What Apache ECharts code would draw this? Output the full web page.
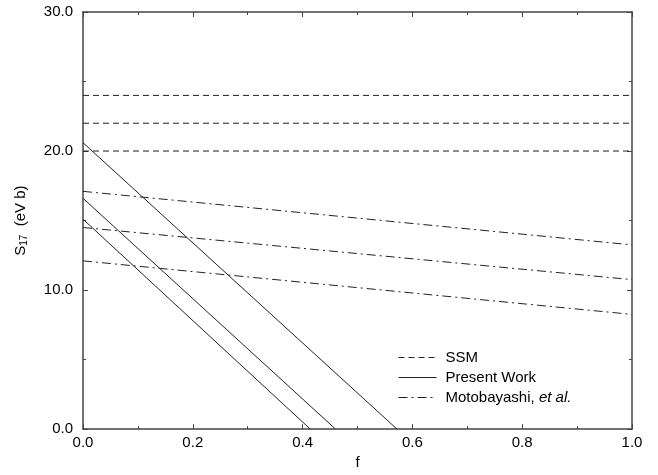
<!DOCTYPE html>
<html>
<head>
<meta charset="utf-8">
<script src="https://cdn.jsdelivr.net/npm/echarts@6/dist/echarts.min.js"></script>
<style>
  html, body { margin: 0; padding: 0; background: #fff; }
  #chart { width: 658px; height: 475px; }
</style>
</head>
<body>
<div id="chart"></div>
<script>
// values
var fRange = [0.0, 1.0];
var xTicks = [0.0, 0.2, 0.4, 0.6, 0.8, 1.0];
var yTicks = [0.0, 10.0, 20.0, 30.0];

// SSM: constant S17
var ssmValues = [24.0, 22.0, 20.0];

// Present Work: straight lines, [S17 at f=0, f where S17 reaches 0]
var presentStart = [20.6, 16.6, 15.1];
var presentZero = [0.572, 0.46, 0.414];

// Motobayashi et al.: [S17 at f=0, S17 at f=1]
var motoStart = [17.1, 14.5, 12.1];
var motoEnd = [13.25, 10.75, 8.25];

var lineColor = '#222';
var series = [];

ssmValues.forEach(function (v) {
    series.push({
        name: 'SSM', type: 'line', symbol: 'none', silent: true,
        data: [[fRange[0], v], [fRange[1], v]],
        itemStyle: { color: lineColor },
        lineStyle: { color: lineColor, width: 1, type: [6, 4] }
    });
});
presentStart.forEach(function (v, i) {
    series.push({
        name: 'Present Work', type: 'line', symbol: 'none', silent: true,
        data: [[fRange[0], v], [presentZero[i], 0]],
        itemStyle: { color: lineColor },
        lineStyle: { color: lineColor, width: 1, type: 'solid' }
    });
});
motoStart.forEach(function (v, i) {
    series.push({
        name: 'Motobayashi, et al.', type: 'line', symbol: 'none', silent: true,
        data: [[fRange[0], v], [fRange[1], motoEnd[i]]],
        itemStyle: { color: lineColor },
        lineStyle: { color: lineColor, width: 1, type: [9, 4, 2, 4] }
    });
});

var font = 'Liberation Sans, Arial, Helvetica, sans-serif';
var axisCommon = {
    type: 'value',
    axisLine: { show: true, onZero: false, lineStyle: { color: '#444', width: 1.5 } },
    axisTick: { show: true, inside: true, length: 5, lineStyle: { color: '#444' } },
    minorTick: { show: true, splitNumber: 2, length: 3, lineStyle: { color: '#444' } },
    splitLine: { show: false },
    minorSplitLine: { show: false }
};

var chart = echarts.init(document.getElementById('chart'), null, { renderer: 'canvas' });
chart.setOption({
    animation: false,
    backgroundColor: '#fff',
    grid: { left: 83, top: 12, right: 26, bottom: 44 },
    legend: {
        orient: 'vertical',
        left: 398, top: 350, padding: 0,
        itemWidth: 38, itemHeight: 14, itemGap: 5,
        selectedMode: false,
        itemStyle: { opacity: 0 },
        lineStyle: { width: 1 },
        data: ['SSM', 'Present Work', 'Motobayashi, et al.'],
        formatter: function (name) {
            return name === 'Motobayashi, et al.' ? 'Motobayashi, {i|et al.}' : name;
        },
        textStyle: {
            fontFamily: font, fontSize: 15, color: '#000', padding: [0, 0, 0, 4],
            rich: { i: { fontFamily: font, fontSize: 15, fontStyle: 'italic', color: '#000' } }
        }
    },
    xAxis: [
        Object.assign({}, axisCommon, {
            min: fRange[0], max: fRange[1], interval: 0.2, position: 'bottom',
            name: 'f', nameLocation: 'middle', nameGap: 17,
            nameTextStyle: { fontFamily: font, fontSize: 15, color: '#000' },
            axisLabel: {
                fontFamily: font, fontSize: 15, color: '#000', margin: 6,
                formatter: function (v) { return v.toFixed(1); }
            }
        }),
        Object.assign({}, axisCommon, {
            min: fRange[0], max: fRange[1], interval: 0.2, position: 'top',
            axisLabel: { show: false }
        })
    ],
    yAxis: [
        Object.assign({}, axisCommon, {
            min: yTicks[0], max: yTicks[yTicks.length - 1], interval: 10, position: 'left',
            name: 'S{sub|17}  (eV b)', nameLocation: 'middle', nameGap: 54, nameRotate: 90,
            nameTextStyle: {
                fontFamily: font, fontSize: 15, color: '#000',
                rich: { sub: { fontFamily: font, fontSize: 10, color: '#000', verticalAlign: 'bottom', padding: [7, 0, 0, 0] } }
            },
            axisLabel: {
                fontFamily: font, fontSize: 15, color: '#000', margin: 10,
                formatter: function (v) { return v.toFixed(1); }
            }
        }),
        Object.assign({}, axisCommon, {
            min: yTicks[0], max: yTicks[yTicks.length - 1], interval: 10, position: 'right',
            axisLabel: { show: false }
        })
    ],
    series: series
});
</script>
</body>
</html>
